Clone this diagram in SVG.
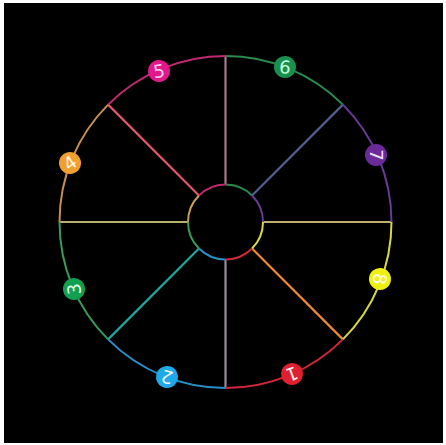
<svg xmlns="http://www.w3.org/2000/svg" width="446" height="445" viewBox="0 0 446 445">
<style>
.arc{fill:none;stroke-width:2}
.sp{stroke-width:2.2;stroke-linecap:butt}
.lbl{stroke:none}
.num{font-family:"DejaVu Sans","Liberation Sans",sans-serif;font-size:18px;text-anchor:middle;dominant-baseline:central}
</style>
<rect x="0" y="0" width="446" height="445" fill="#ffffff"/>
<rect x="4" y="3" width="439" height="440" fill="#000000"/>
<g id="connectors">
<line class="sp" x1="225.5" y1="184.5" x2="225.5" y2="56" stroke="#a87890"/>
<line class="sp" x1="252.02" y1="195.48" x2="342.88" y2="104.62" stroke="#506090"/>
<line class="sp" x1="263" y1="222" x2="391.5" y2="222" stroke="#c0b070"/>
<line class="sp" x1="252.02" y1="248.52" x2="342.88" y2="339.38" stroke="#f08a30" stroke-width="2.6"/>
<line class="sp" x1="225.5" y1="259.5" x2="225.5" y2="388" stroke="#9a8aa0"/>
<line class="sp" x1="198.98" y1="248.52" x2="108.12" y2="339.38" stroke="#20a8a0" stroke-width="2.6"/>
<line class="sp" x1="188" y1="222" x2="59.5" y2="222" stroke="#b8b070"/>
<line class="sp" x1="198.98" y1="195.48" x2="108.12" y2="104.62" stroke="#e05868" stroke-width="2.8"/>
</g>
<g id="ring">
<path class="arc" d="M225.5 56 A166 166 0 0 1 342.88 104.62" stroke="#2a8a50"/>
<path class="arc" d="M342.88 104.62 A166 166 0 0 1 391.5 222" stroke="#6a3a9a"/>
<path class="arc" d="M391.5 222 A166 166 0 0 1 342.88 339.38" stroke="#d8d840"/>
<path class="arc" d="M342.88 339.38 A166 166 0 0 1 225.5 388" stroke="#d02838"/>
<path class="arc" d="M225.5 388 A166 166 0 0 1 108.12 339.38" stroke="#2a90c8"/>
<path class="arc" d="M108.12 339.38 A166 166 0 0 1 59.5 222" stroke="#3a9a5a"/>
<path class="arc" d="M59.5 222 A166 166 0 0 1 108.12 104.62" stroke="#c89050"/>
<path class="arc" d="M108.12 104.62 A166 166 0 0 1 225.5 56" stroke="#c02870"/>
</g>
<g id="hub">
<path class="arc" d="M225.5 184.5 A37.5 37.5 0 0 1 252.02 195.48" stroke="#2a8a50"/>
<path class="arc" d="M252.02 195.48 A37.5 37.5 0 0 1 263 222" stroke="#6a3a9a"/>
<path class="arc" d="M263 222 A37.5 37.5 0 0 1 252.02 248.52" stroke="#d8d840"/>
<path class="arc" d="M252.02 248.52 A37.5 37.5 0 0 1 225.5 259.5" stroke="#d02838"/>
<path class="arc" d="M225.5 259.5 A37.5 37.5 0 0 1 198.98 248.52" stroke="#2a90c8"/>
<path class="arc" d="M198.98 248.52 A37.5 37.5 0 0 1 188 222" stroke="#3a9a5a"/>
<path class="arc" d="M188 222 A37.5 37.5 0 0 1 198.98 195.48" stroke="#c8a050"/>
<path class="arc" d="M198.98 195.48 A37.5 37.5 0 0 1 225.5 184.5" stroke="#c02870"/>
</g>
<g id="n5" transform="translate(159 71) rotate(-8)"><circle class="lbl" r="11" fill="#e0188a"/><text class="num" fill="#ffd0ec">5</text></g>
<g id="n6" transform="translate(285 67) rotate(5)"><circle class="lbl" r="11" fill="#1a9050"/><text class="num" fill="#c8ffd8">6</text></g>
<g id="n7" transform="translate(376 155) rotate(90)"><circle class="lbl" r="11" fill="#6a2a9a"/><text class="num" fill="#f0e0ff">7</text></g>
<g id="n8" transform="translate(380 279) rotate(95)"><circle class="lbl" r="11" fill="#f0f010"/><text class="num" fill="#fffff0">8</text></g>
<g id="n1" transform="translate(292 374) rotate(160)"><circle class="lbl" r="11" fill="#e02030"/><text class="num" fill="#fff0f0">1</text></g>
<g id="n2" transform="translate(167 377) rotate(195)"><circle class="lbl" r="11" fill="#20a8e8"/><text class="num" fill="#f0faff">2</text></g>
<g id="n3" transform="translate(74 289) rotate(-95)"><circle class="lbl" r="11" fill="#12a050"/><text class="num" fill="#e0ffe8">3</text></g>
<g id="n4" transform="translate(70 163) rotate(-35)"><circle class="lbl" r="11" fill="#f0a030"/><text class="num" fill="#fff4e0">4</text></g>
</svg>
